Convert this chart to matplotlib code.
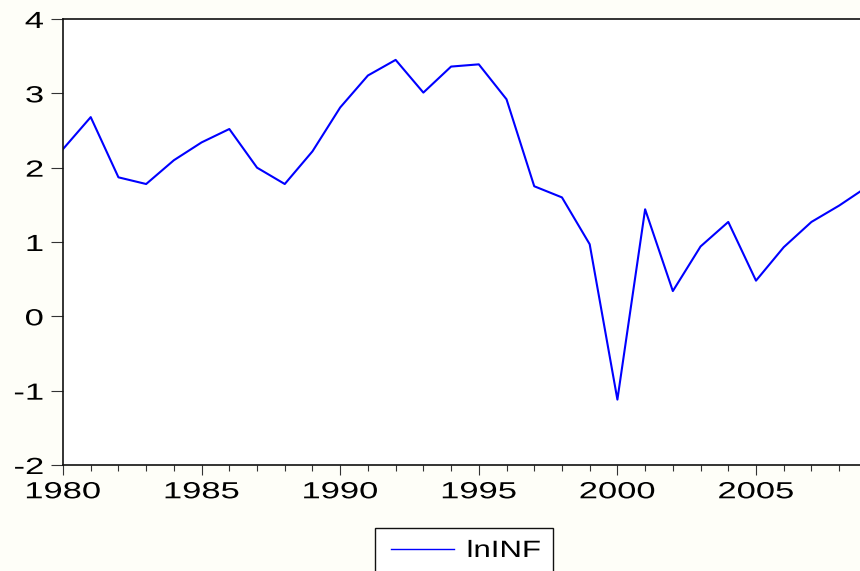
import matplotlib
matplotlib.use("Agg")
import matplotlib.pyplot as plt
from matplotlib.ticker import MultipleLocator
from matplotlib.patheffects import AbstractPathEffect
from matplotlib.transforms import Affine2D
from matplotlib.patches import Rectangle

years = list(range(1980, 2010))
lninf = [2.25, 2.68, 1.87, 1.78, 2.10, 2.34, 2.52, 2.00, 1.78, 2.22,
         2.81, 3.24, 3.45, 3.01, 3.36, 3.39, 2.92, 1.75, 1.60, 0.97,
         -1.12, 1.44, 0.34, 0.94, 1.27, 0.48, 0.93, 1.27, 1.49, 1.74]
series_name = "lnINF"


class HStretch(AbstractPathEffect):
    """Stretch text glyphs horizontally (EViews-like wide font)."""
    def __init__(self, sx, anchor=0.0):
        super().__init__()
        self.sx = sx
        self.anchor = anchor

    def draw_path(self, renderer, gc, tpath, affine, rgbFace=None):
        ext = tpath.get_extents(affine)
        xa = ext.x0 + self.anchor * ext.width
        new = affine + Affine2D().translate(-xa, 0).scale(self.sx, 1).translate(xa, 0)
        renderer.draw_path(gc, tpath, new, rgbFace)


plt.rcParams['font.family'] = ['Liberation Sans', 'DejaVu Sans']
plt.rcParams['axes.unicode_minus'] = False

W, H = 860, 571
fig = plt.figure(figsize=(W / 100, H / 100), dpi=100, facecolor='#FEFEF8')
left_px, top_px, bot_px = 63, 19, 465
ax = fig.add_axes([left_px / W, 1 - bot_px / H, 1 - left_px / W, (bot_px - top_px) / H])
ax.set_facecolor('white')
ax.plot(years, lninf, color='#0000FF', lw=1.5, label=series_name)
ax.set_xlim(1980, 1980 + (W - left_px) / 27.72)
ax.set_ylim(-2, 4)
ax.yaxis.set_major_locator(MultipleLocator(1))
ax.xaxis.set_major_locator(MultipleLocator(5))
ax.xaxis.set_minor_locator(MultipleLocator(1))
ax.tick_params(axis='y', direction='out', length=8.5, width=0.8, labelsize=16.8, pad=5.5,
               color='#333333')
ax.tick_params(axis='x', which='major', direction='out', length=7.5, width=0.8,
               labelsize=16.8, pad=3.5, color='#333333')
ax.tick_params(axis='x', which='minor', direction='out', length=4, width=0.8, color='#333333')
ax.spines['right'].set_visible(False)
for s in ['left', 'bottom', 'top']:
    ax.spines[s].set_linewidth(1.2)
    ax.spines[s].set_color('#111111')

for lbl in ax.get_xticklabels():
    lbl.set_path_effects([HStretch(1.48, 0.5)])
for lbl in ax.get_yticklabels():
    lbl.set_path_effects([HStretch(1.48, 1.0)])

leg = fig.legend(loc='upper left', bbox_to_anchor=(391 / W, 1 - 540 / H), fontsize=17,
                 frameon=False, handlelength=63 / 23.6, borderpad=0, borderaxespad=0,
                 handletextpad=13 / 23.6)
leg.get_lines()[0].set_linewidth(1.0)
for t in leg.get_texts():
    t.set_path_effects([HStretch(1.32, 0.0)])

frame = Rectangle((375 / W, -0.1), (553 - 375) / W, (H - 528) / H + 0.1,
                  transform=fig.transFigure, facecolor='white', edgecolor='#111111',
                  lw=1.0, zorder=0)
fig.patches.append(frame)

fig.savefig('out.png', dpi=100, facecolor=fig.get_facecolor())
